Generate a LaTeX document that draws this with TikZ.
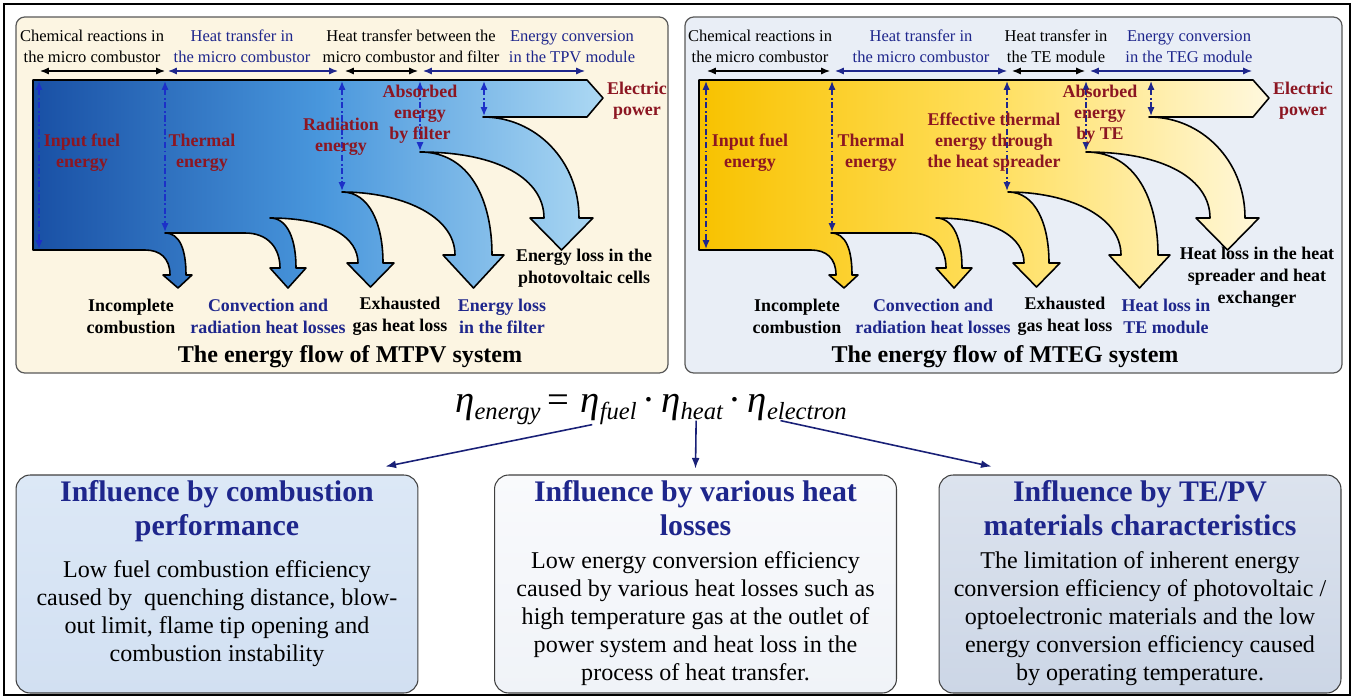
\documentclass[tikz,border=0pt]{standalone}
\usepackage{fontspec}
\setmainfont{Liberation Serif}
\usepackage{tikz}
\usetikzlibrary{positioning, arrows.meta}

\definecolor{navytxt}{RGB}{30,38,140}
\definecolor{flowred}{RGB}{140,22,34}
\definecolor{dimblue}{RGB}{28,48,200}
\definecolor{creambg}{RGB}{252,245,226}
\definecolor{steelbg}{RGB}{233,238,246}
\definecolor{blueA}{RGB}{25,80,165}
\definecolor{blueM}{RGB}{72,150,220}
\definecolor{blueB}{RGB}{172,216,243}
\definecolor{goldA}{RGB}{248,194,0}
\definecolor{goldM}{RGB}{255,222,90}
\definecolor{goldB}{RGB}{255,248,222}
\definecolor{boxblue}{RGB}{220,232,246}
\definecolor{boxblueD}{RGB}{210,224,242}
\definecolor{boxwhite}{RGB}{249,250,252}
\definecolor{boxwhiteD}{RGB}{240,243,248}
\definecolor{boxgray}{RGB}{220,227,238}
\definecolor{boxgrayD}{RGB}{204,214,230}

% pedice dell'equazione
\newcommand{\etasub}[1]{η\raisebox{-4pt}{\fontsize{14}{16}\selectfont #1}}

% contorno del diagramma di Sankey (pixel)
\newcommand{\sankeypath}{%
  (33,80) -- (587,80) -- (603,98) -- (587,117) -- (483,117)
  .. controls (535,117) and (579,160) .. (579,218)
  -- (593,218) -- (561.5,250) -- (530,218) -- (544,218)
  .. controls (544,180) and (500,152) .. (420,152)
  .. controls (470,152) and (492,200) .. (492,255)
  -- (504,255) -- (473.5,288) -- (443,255) -- (455,255)
  .. controls (455,215) and (400,192) .. (342,192)
  .. controls (370,192) and (383,225) .. (383,263)
  -- (394,263) -- (370.5,287) -- (347,263) -- (358,263)
  .. controls (358,238) and (330,218) .. (270,218)
  .. controls (288,218) and (296,240) .. (296,268)
  -- (306,268) -- (288,288) -- (270,268) -- (280,268)
  .. controls (280,248) and (268,233) .. (245,233)
  -- (165,233)
  .. controls (180,233) and (186,250) .. (186,275)
  -- (192,275) -- (178,288) -- (163,275) -- (170,275)
  .. controls (170,258) and (160,250) .. (145,250)
  -- (33,250) -- cycle}

\begin{document}
\begin{tikzpicture}[x=0.02cm, y=-0.02cm]
    % Stili
    \tikzstyle{hdr} = [align=center, inner sep=0pt, font=\fontsize{9.4}{11.9}\selectfont]
    \tikzstyle{hdrblue} = [hdr, text=navytxt]
    \tikzstyle{flowlbl} = [align=center, inner sep=0pt, text=flowred, font=\fontsize{10.2}{12}\selectfont\bfseries]
    \tikzstyle{losslbl} = [align=center, inner sep=0pt, font=\fontsize{10.2}{12.4}\selectfont\bfseries]
    \tikzstyle{lossblue} = [losslbl, text=navytxt]
    \tikzstyle{paneltitle} = [inner sep=0pt, font=\fontsize{13.7}{16}\selectfont\bfseries]
    \tikzstyle{panel} = [draw=black!65, line width=0.7pt, rounded corners=5pt]
    \tikzstyle{flowshape} = [draw=black, line width=0.9pt, line join=round]
    \tikzstyle{dimarr} = [{Latex[length=5pt,width=4pt]}-{Latex[length=5pt,width=4pt]}, dimblue, line width=0.8pt, dash pattern=on 3.5pt off 1.5pt on 1pt off 1.5pt]
    \tikzstyle{spanarr} = [{Latex[length=5pt,width=4pt]}-{Latex[length=5pt,width=4pt]}, line width=0.7pt]
    \tikzstyle{infobox} = [draw=black!75, line width=0.6pt, rounded corners=8pt, minimum width=8.04cm, minimum height=4.36cm]
    \tikzstyle{boxtitle} = [align=center, inner sep=0pt, text=navytxt, font=\fontsize{17}{19.8}\selectfont\bfseries]
    \tikzstyle{boxtext} = [align=center, inner sep=0pt, font=\fontsize{13.7}{15.9}\selectfont]
    \tikzstyle{eqpart} = [inner sep=0pt, anchor=base west, font=\fontsize{22}{26}\selectfont\itshape]
    \tikzstyle{effarr} = [-{Latex[length=6pt,width=4.5pt]}, navytxt!85!black, line width=0.9pt]

    \useasboundingbox (0,0) rectangle (1354,699);
    \draw[line width=1.1pt] (4,4) rectangle (1350,695);

    % Pannelli
    \draw[panel, fill=creambg] (16,17) rectangle (668,373);
    \draw[panel, fill=steelbg] (685,17) rectangle (1342,373);

    % Flusso MTPV
    \draw[flowshape, left color=blueA, right color=blueB, middle color=blueM] \sankeypath;
    \foreach \x/\y in {39/250, 165/233, 342/192, 420/152, 484/117}
        \draw[dimarr] (\x,81) -- (\x,\y-1);
    \draw[spanarr] (40,71) -- (165,71);
    \draw[spanarr, navytxt] (168,71) -- (338,71);
    \draw[spanarr] (345,71) -- (418,71);
    \draw[spanarr, navytxt] (423,71) -- (585,71);

    % Flusso MTEG
    \begin{scope}[shift={(666,0)}]
        \draw[flowshape, left color=goldA, right color=goldB, middle color=goldM] \sankeypath;
        \foreach \x/\y in {40/250, 166/233, 341/192, 420/152, 485/117}
            \draw[dimarr, navytxt] (\x,81) -- (\x,\y-1);
        \draw[spanarr] (41,71) -- (164,71);
        \draw[spanarr, navytxt] (169,71) -- (341,71);
        \draw[spanarr] (346,71) -- (419,71);
        \draw[spanarr, navytxt] (424,71) -- (586,71);
    \end{scope}

    % Testi MTPV
    \node[hdr] (pvA) at (92,46.5) {Chemical reactions in\\the micro combustor};
    \node[hdrblue] (pvB) at (242,46.5) {Heat transfer in\\the micro combustor};
    \node[hdr] (pvC) at (411,46.5) {Heat transfer between the\\micro combustor and filter};
    \node[hdrblue] (pvD) at (572,46.5) {Energy conversion\\in the TPV module};
    \node[flowlbl] (pvfuel) at (82,152.5) {Input fuel\\energy};
    \node[flowlbl] (pvtherm) at (202,152.5) {Thermal\\energy};
    \node[flowlbl] (pvrad) at (341,137) {Radiation\\energy};
    \node[flowlbl] (pvabs) at (420,114) {Absorbed\\energy\\by filter};
    \node[flowlbl] (pvel) at (637,101) {Electric\\power};
    \node[losslbl] (pvl1) at (131,316) {Incomplete\\combustion};
    \node[lossblue] (pvl2) at (268,316) {Convection and\\radiation heat losses};
    \node[losslbl] (pvl3) at (400,316) {Exhausted\\gas heat loss};
    \node[lossblue] (pvl4) at (502,316) {Energy loss\\in the filter};
    \node[losslbl] (pvl5) at (584,268) {Energy loss in the\\photovoltaic cells};
    \node[paneltitle] (pvtitle) at (350,357) {The energy flow of MTPV system};

    % Testi MTEG
    \node[hdr] (teA) at (760,46.5) {Chemical reactions in\\the micro combustor};
    \node[hdrblue] (teB) at (921,46.5) {Heat transfer in\\the micro combustor};
    \node[hdr] (teC) at (1056,46.5) {Heat transfer in\\the TE module};
    \node[hdrblue] (teD) at (1189,46.5) {Energy conversion\\in the TEG module};
    \node[flowlbl] (tefuel) at (750,152.5) {Input fuel\\energy};
    \node[flowlbl] (tetherm) at (871,152.5) {Thermal\\energy};
    \node[flowlbl] (teeff) at (994,142) {Effective thermal\\energy through\\the heat spreader};
    \node[flowlbl] (teabs) at (1100,114) {Absorbed\\energy\\by TE};
    \node[flowlbl] (teel) at (1303,101) {Electric\\power};
    \node[losslbl] (tel1) at (797,316) {Incomplete\\combustion};
    \node[lossblue] (tel2) at (933,316) {Convection and\\radiation heat losses};
    \node[losslbl] (tel3) at (1065,316) {Exhausted\\gas heat loss};
    \node[lossblue] (tel4) at (1166,316) {Heat loss in\\TE module};
    \node[losslbl] (tel5) at (1257,277.5) {Heat loss in the heat\\spreader and heat\\exchanger};
    \node[paneltitle] (tetitle) at (1005,357) {The energy flow of MTEG system};

    % Equazione
    \node[eqpart] (etaE) at (455,412) {\etasub{energy}\kern4pt\upshape=\kern6pt};
    \node[eqpart] (etaF) at (etaE.base east) {\etasub{fuel}};
    \node[eqpart] (dotA) at (etaF.base east) {\kern3pt\upshape·\kern3pt};
    \node[eqpart] (etaH) at (dotA.base east) {\etasub{heat}};
    \node[eqpart] (dotB) at (etaH.base east) {\kern3pt\upshape·\kern3pt};
    \node[eqpart] (etaX) at (dotB.base east) {\etasub{electron}};

    % Riquadri
    \node[infobox, top color=boxblue, bottom color=boxblueD] (comb) at (217,584) {};
    \node[infobox, top color=boxwhite, bottom color=boxwhiteD] (heat) at (695.5,584) {};
    \node[infobox, top color=boxgray, bottom color=boxgrayD] (matl) at (1140,584) {};

    \node[boxtitle, below=3pt of comb.north] (combT) {Influence by combustion\\performance};
    \node[boxtitle, below=3pt of heat.north] (heatT) {Influence by various heat\\losses};
    \node[boxtitle, below=3pt of matl.north] (matlT) {Influence by TE/PV\\materials characteristics};

    \node[boxtext] (combB) at (217,614) {Low fuel combustion efficiency\\caused by~ quenching distance, blow-\\out limit, flame tip opening and\\combustion instability};
    \node[boxtext] (heatB) at (695.5,618.5) {Low energy conversion efficiency\\caused by various heat losses such as\\high temperature gas at the outlet of\\power system and heat loss in the\\process of heat transfer.};
    \node[boxtext] (matlB) at (1140,618.5) {The limitation of inherent energy\\conversion efficiency of photovoltaic /\\optoelectronic materials and the low\\energy conversion efficiency caused\\by operating temperature.};

    % Collegamenti
    \draw[effarr] ([xshift=0.24cm]etaF.south west) -- ([xshift=-0.66cm, yshift=0.16cm]comb.north east);
    \draw[effarr] ([xshift=0.70cm]etaH.south west) -- ([yshift=0.12cm]heat.north);
    \draw[effarr] ([xshift=0.66cm]etaX.south west) -- ([xshift=1.06cm, yshift=0.16cm]matl.north west);

\end{tikzpicture}
\end{document}
